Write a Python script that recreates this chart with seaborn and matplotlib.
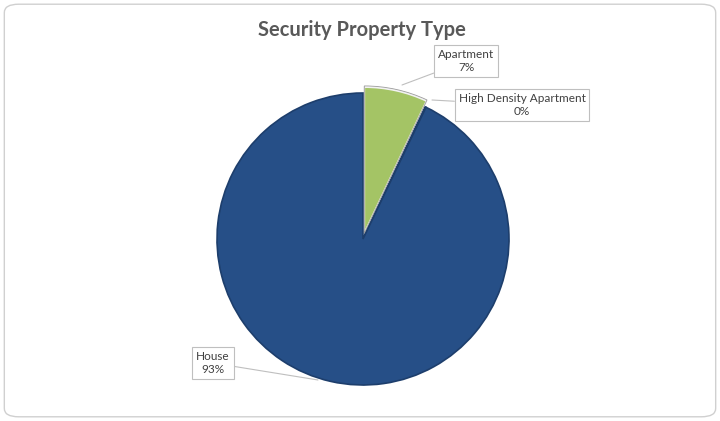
import matplotlib
matplotlib.use("Agg")
import matplotlib.pyplot as plt
import seaborn as sns
from matplotlib.patches import FancyBboxPatch, Wedge

sns.set_theme(style="white")
plt.rcParams['font.family'] = ['Lato', 'DejaVu Sans']

# data
categories = ['Apartment', 'High Density Apartment', 'House']
values = [7.0, 0.1, 92.9]
pct_labels = ['7%', '0%', '93%']
colors = ['#A4C465', '#1D3E6C', '#264F87']
edge_colors = ['#F2F2F2', '#1D3E6C', '#1D3E6C']

fig = plt.figure(figsize=(7.2, 4.21), dpi=100)
ax = fig.add_axes([0, 0, 1, 1])

# chart frame
frame = FancyBboxPatch((0.006, 0.01), 0.988, 0.98, boxstyle="round,pad=0,rounding_size=0.02",
                       transform=fig.transFigure, facecolor='none', edgecolor='#D0D0D0',
                       linewidth=1, zorder=5)
fig.patches.append(frame)

wedges, _ = ax.pie(values, colors=colors, startangle=90, counterclock=False,
                   center=(363, 182), radius=146, explode=[6, 0, 0],
                   wedgeprops=dict(linewidth=1.2), frame=True)
for w, ec in zip(wedges, edge_colors):
    w.set_edgecolor(ec)
# thin grey outline round the pulled-out slice
w0 = wedges[0]
ax.add_patch(Wedge(w0.center, w0.r + 1.2, w0.theta1, w0.theta2, fill=False,
                   edgecolor='#9A9A9A', linewidth=0.6, zorder=3))
ax.set_xlim(0, 720)
ax.set_ylim(0, 421)
ax.set_aspect('equal')
ax.axis('off')

fig.text(0.503, 0.9145, 'Security Property Type', ha='center', va='baseline',
         fontsize=14.5, fontweight='bold', color='#595959')

box = dict(boxstyle='square,pad=0.32', facecolor='white', edgecolor='#BFBFBF', linewidth=0.8)
label_pos = [(466, 360), (522, 316), (213, 58)]
anchor_pos = [(402, 336), (432, 321), (318, 41)]
for cat, pct, (tx, ty), (axx, ayy) in zip(categories, pct_labels, label_pos, anchor_pos):
    ax.annotate(f'{cat}\n{pct}', xy=(axx, ayy), xytext=(tx, ty), ha='center', va='center',
                fontsize=8.5, color='#404040', bbox=box, linespacing=1.3,
                arrowprops=dict(arrowstyle='-', color='#BFBFBF', linewidth=0.8,
                                shrinkA=0, shrinkB=0))

fig.savefig('out.png', dpi=100)
